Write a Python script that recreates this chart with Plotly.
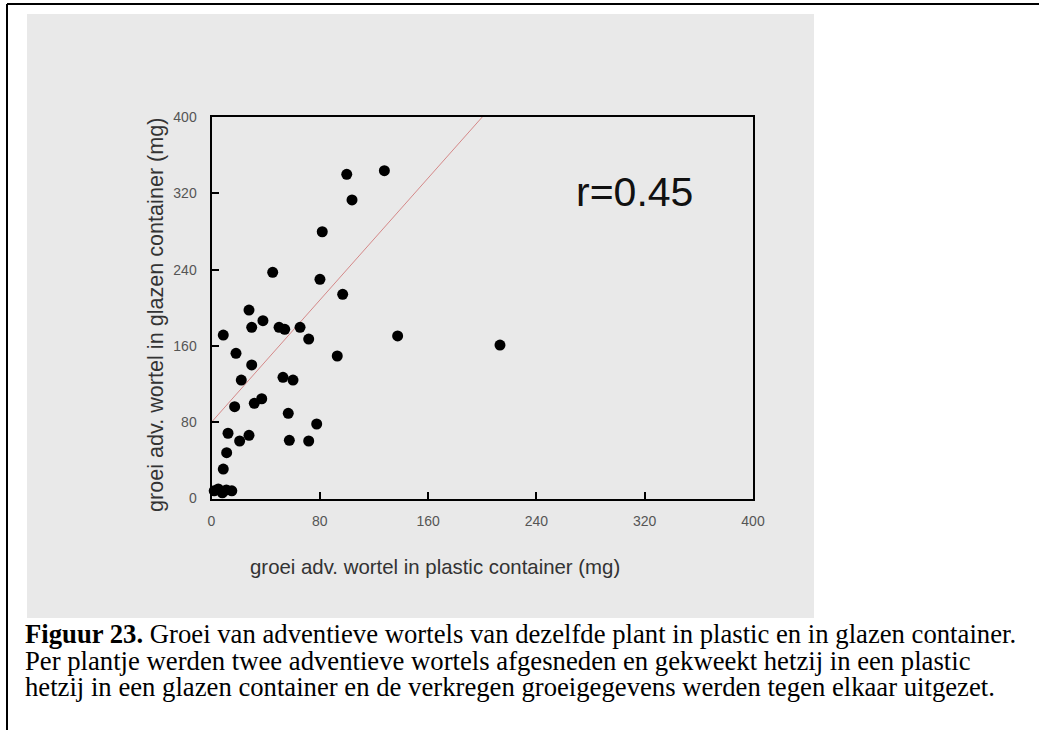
import plotly.graph_objects as go

W, H = 1039, 730

# Data (mg)
x_plastic = [99.9, 127.7, 103.8, 81.8, 45.2, 80.1, 96.9, 27.7, 38.0, 29.7,
             8.7, 49.9, 54.1, 65.4, 71.8, 137.5, 213.1, 18.1, 92.9, 29.7,
             22.0, 52.8, 60.2, 17.1, 31.6, 37.1, 56.7, 77.7, 12.2, 20.8,
             27.7, 57.5, 71.8, 11.2, 8.7, 2.0, 5.0, 8.0, 11.0, 15.0]
y_glass = [339.9, 343.7, 313.0, 279.7, 237.2, 229.8, 214.1, 197.6, 186.4, 179.5,
           171.4, 179.5, 177.4, 179.5, 167.2, 170.4, 160.9, 152.2, 149.4, 140.0,
           124.2, 127.1, 124.2, 96.3, 99.8, 104.6, 89.3, 78.1, 68.4, 60.3,
           66.3, 61.0, 60.3, 48.0, 30.9, 8.0, 10.0, 6.0, 9.0, 8.0]

reg_intercept = 80.0
reg_slope = 1.6
reg_x = [0, 200]
reg_y = [reg_intercept + reg_slope * v for v in reg_x]

tick_vals = [0, 80, 160, 240, 320, 400]
tick_text = ["0", "80", "160", "240", "320", "400"]

r_label = "r=0.45"
x_title = "groei adv. wortel in plastic container (mg)"
y_title = "groei adv. wortel in glazen container (mg)"
caption_lines = [
    "<b>Figuur 23.</b> Groei van adventieve wortels van dezelfde plant in plastic en in glazen container.",
    "Per plantje werden twee adventieve wortels afgesneden en gekweekt hetzij in een plastic",
    "hetzij in een glazen container en de verkregen groeigegevens werden tegen elkaar uitgezet.",
]

# layout geometry (pixels)
GL, GR, GT, GB = 27, 814, 14, 618          # gray panel
PL, PR, PT, PB = 211.5, 753, 117, 498.5    # plot box
GRAY = "#e9e9e9"


def px(x):
    return (x - GL) / (GR - GL)


def py(y):
    return (GB - y) / (GB - GT)


fig = go.Figure()
# invisible full-panel subplot (x/y) that paints the gray panel
fig.add_trace(go.Scatter(x=[None], y=[None], xaxis="x", yaxis="y",
                         showlegend=False, hoverinfo="skip"))
fig.add_trace(go.Scatter(x=reg_x, y=reg_y, mode="lines", xaxis="x2", yaxis="y2",
                         line=dict(color="#d48888", width=1), hoverinfo="skip",
                         showlegend=False))
fig.add_trace(go.Scatter(x=x_plastic, y=y_glass, mode="markers", cliponaxis=False,
                         xaxis="x2", yaxis="y2",
                         marker=dict(color="black", size=11), showlegend=False))

axis_common = dict(range=[0, 400], tickvals=tick_vals, ticktext=tick_text,
                   showline=True, mirror=True, linecolor="black", linewidth=2,
                   ticks="inside", ticklen=7, tickwidth=2, tickcolor="black",
                   showgrid=False, zeroline=False, automargin=False,
                   tickfont=dict(family="Liberation Sans", size=14, color="#555"))

fig.update_layout(
    width=W, height=H,
    margin=dict(l=GL, r=W - GR, t=GT, b=H - GB, pad=0, autoexpand=False),
    paper_bgcolor="white", plot_bgcolor=GRAY,
    xaxis=dict(domain=[0, 1], anchor="y", visible=False, range=[0, 1]),
    yaxis=dict(domain=[0, 1], anchor="x", visible=False, range=[0, 1]),
    xaxis2=dict(**axis_common, domain=[px(PL), px(PR)], anchor="y2",
                ticklabelstandoff=9),
    yaxis2=dict(**axis_common, domain=[py(PB), py(PT)], anchor="x2",
                ticklabelstandoff=10),
)

shapes = [
    # outer frame: top and left lines
    dict(type="line", xref="paper", yref="paper",
         x0=px(7), x1=px(1040), y0=py(4), y1=py(4),
         line=dict(color="black", width=2)),
    dict(type="line", xref="paper", yref="paper",
         x0=px(7), x1=px(7), y0=py(4), y1=py(731),
         line=dict(color="black", width=2)),
]
fig.update_layout(shapes=shapes)

annotations = [
    dict(text=r_label, xref="paper", yref="paper", x=px(634), y=py(192),
         xanchor="center", yanchor="middle", showarrow=False,
         font=dict(family="Liberation Sans", size=41, color="#111")),
    dict(text=x_title, xref="paper", yref="paper", x=px(435), y=py(567),
         xanchor="center", yanchor="middle", showarrow=False,
         font=dict(family="Liberation Sans", size=20.4, color="#333")),
    dict(text=y_title, xref="paper", yref="paper", x=px(155), y=py(315),
         xanchor="center", yanchor="middle", showarrow=False, textangle=-90,
         font=dict(family="Liberation Sans", size=21.6, color="#333")),
]
for i, line in enumerate(caption_lines):
    annotations.append(dict(text=line, xref="paper", yref="paper",
                            x=px(23), y=py(634 + 26.5 * i),
                            xanchor="left", yanchor="middle", showarrow=False,
                            font=dict(family="Liberation Serif", size=26.7, color="black")))
fig.update_layout(annotations=annotations)

fig.write_html("out.html")
